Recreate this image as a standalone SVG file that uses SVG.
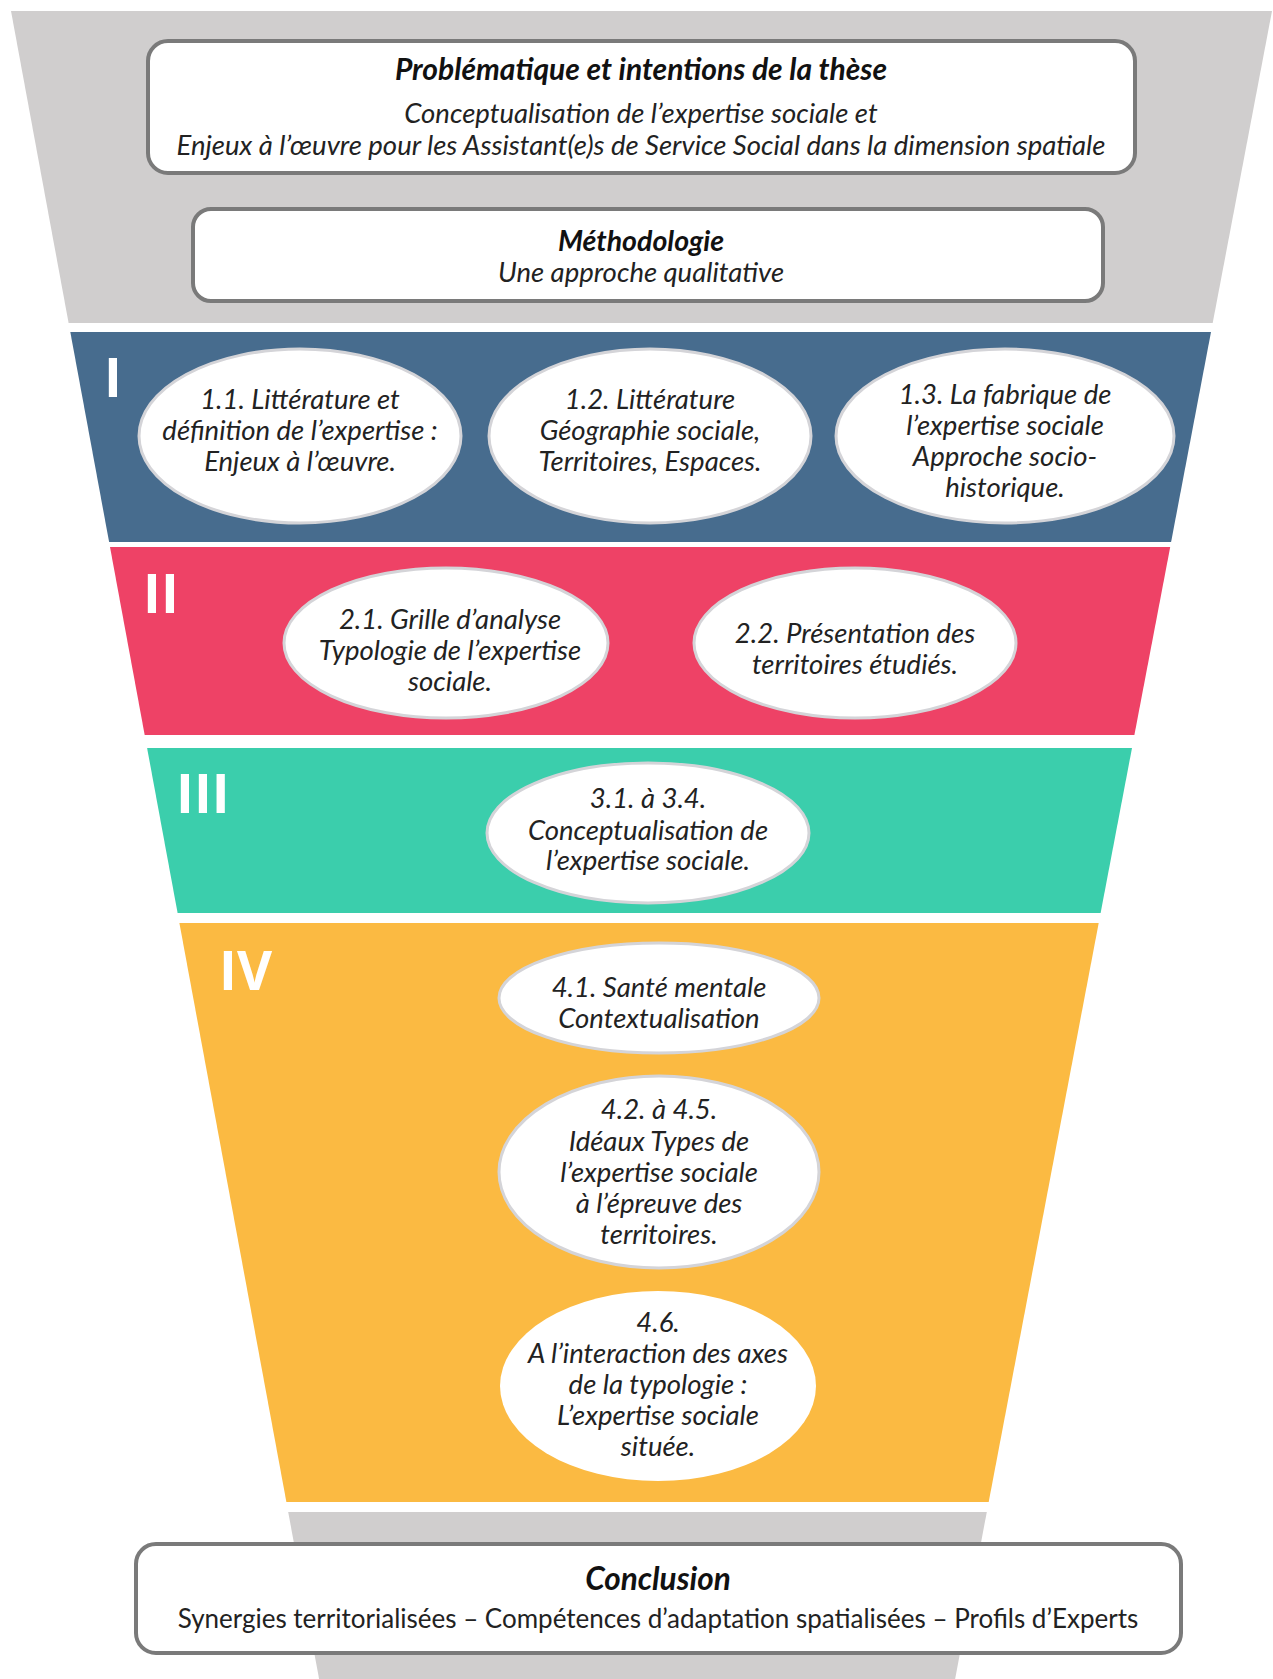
<svg xmlns="http://www.w3.org/2000/svg" width="1273" height="1679" viewBox="0 0 1273 1679">
<style>
.band-gray{fill:#D0CECE}
.band-blue{fill:#476C8E}
.band-pink{fill:#EE4266}
.band-teal{fill:#3BCEAC}
.band-yellow{fill:#FBBA42}
.box{fill:#FFFFFF;stroke:#7A7A7A;stroke-width:4}
.ell{fill:#FFFFFF;stroke:#D4D4D8;stroke-width:3}
.ell-plain{fill:#FFFFFF}
.t{font-family:Lato,"Liberation Sans",sans-serif;font-size:27.5px;font-style:italic;fill:#222222;text-anchor:middle}
.tb{font-family:Lato,"Liberation Sans",sans-serif;font-size:30px;font-style:italic;font-weight:700;fill:#111111;text-anchor:middle}
.tr{font-family:Lato,"Liberation Sans",sans-serif;font-size:26px;fill:#222222;text-anchor:middle}
.num{font-family:"Open Sans","Liberation Sans",sans-serif;font-size:54px;font-weight:700;fill:#FFFFFF}
</style>
<rect width="1273" height="1679" fill="#FFFFFF"/>
<g id="funnel">
  <polygon class="band-gray" points="11,11 1272,11 1212.7,323 68.6,323"/>
  <polygon class="band-blue" points="70.3,332 1211,332 1171.1,542 109.1,542"/>
  <polygon class="band-pink" points="110,547 1170.2,547 1134.4,735 144.7,735"/>
  <polygon class="band-teal" points="147.1,748 1132,748 1100.6,913 177.6,913"/>
  <polygon class="band-yellow" points="179.4,923 1098.7,923 988.7,1502 286.4,1502"/>
  <polygon class="band-gray" points="288.2,1512 986.8,1512 955.1,1679 319.1,1679"/>
</g>
<g id="section-numbers">
  <text class="num" x="104" y="397">I</text>
  <text class="num" x="143" y="613">II</text>
  <text class="num" x="176" y="813">III</text>
  <text class="num" x="219" y="990">IV</text>
</g>
<g id="problematique">
  <rect class="box" x="148" y="41" width="987" height="132" rx="20"/>
  <text class="tb" x="641" y="80">Problématique et intentions de la thèse</text>
  <text class="t" x="641" y="123">Conceptualisation de l’expertise sociale et</text>
  <text class="t" x="641" y="155">Enjeux à l’œuvre pour les Assistant(e)s de Service Social dans la dimension spatiale</text>
</g>
<g id="methodologie">
  <rect class="box" x="193" y="209" width="910" height="92" rx="18"/>
  <text class="tb" x="641" y="251" style="font-size:28.5px">Méthodologie</text>
  <text class="t" x="641" y="282">Une approche qualitative</text>
</g>
<g id="n1-1">
  <ellipse class="ell" cx="300" cy="436" rx="161" ry="87"/>
  <text class="t" x="300" y="409">1.1. Littérature et</text>
  <text class="t" x="300" y="440">définition de l’expertise :</text>
  <text class="t" x="300" y="471">Enjeux à l’œuvre.</text>
</g>
<g id="n1-2">
  <ellipse class="ell" cx="650" cy="436" rx="161" ry="87"/>
  <text class="t" x="650" y="409">1.2. Littérature</text>
  <text class="t" x="650" y="440">Géographie sociale,</text>
  <text class="t" x="650" y="471">Territoires, Espaces.</text>
</g>
<g id="n1-3">
  <ellipse class="ell" cx="1005" cy="436" rx="169" ry="87"/>
  <text class="t" x="1005" y="404">1.3. La fabrique de</text>
  <text class="t" x="1005" y="435">l’expertise sociale</text>
  <text class="t" x="1005" y="466">Approche socio-</text>
  <text class="t" x="1005" y="497">historique.</text>
</g>
<g id="n2-1">
  <ellipse class="ell" cx="446" cy="643" rx="162" ry="75"/>
  <text class="t" x="450" y="629">2.1. Grille d’analyse</text>
  <text class="t" x="450" y="660">Typologie de l’expertise</text>
  <text class="t" x="450" y="691">sociale.</text>
</g>
<g id="n2-2">
  <ellipse class="ell" cx="855" cy="643" rx="161" ry="75"/>
  <text class="t" x="855" y="643">2.2. Présentation des</text>
  <text class="t" x="855" y="674">territoires étudiés.</text>
</g>
<g id="n3">
  <ellipse class="ell" cx="648" cy="833" rx="161" ry="70"/>
  <text class="t" x="648" y="808">3.1. à 3.4.</text>
  <text class="t" x="648" y="840">Conceptualisation de</text>
  <text class="t" x="648" y="870">l’expertise sociale.</text>
</g>
<g id="n4-1">
  <ellipse class="ell" cx="659" cy="998" rx="160" ry="55"/>
  <text class="t" x="659" y="997">4.1. Santé mentale</text>
  <text class="t" x="659" y="1028">Contextualisation</text>
</g>
<g id="n4-2">
  <ellipse class="ell" cx="659" cy="1172" rx="160" ry="96"/>
  <text class="t" x="659" y="1119">4.2. à 4.5.</text>
  <text class="t" x="659" y="1151">Idéaux Types de</text>
  <text class="t" x="659" y="1182">l’expertise sociale</text>
  <text class="t" x="659" y="1213">à l’épreuve des</text>
  <text class="t" x="659" y="1244">territoires.</text>
</g>
<g id="n4-6">
  <ellipse class="ell-plain" cx="658" cy="1386" rx="158" ry="95"/>
  <text class="t" x="658" y="1332">4.6.</text>
  <text class="t" x="658" y="1363">A l’interaction des axes</text>
  <text class="t" x="658" y="1394">de la typologie :</text>
  <text class="t" x="658" y="1425">L’expertise sociale</text>
  <text class="t" x="658" y="1456">située.</text>
</g>
<g id="conclusion">
  <rect class="box" x="136" y="1544" width="1045" height="109" rx="20"/>
  <text class="tb" x="658" y="1590" style="font-size:31.5px">Conclusion</text>
  <text class="tr" x="658" y="1628">Synergies territorialisées – Compétences d’adaptation spatialisées – Profils d’Experts</text>
</g>
</svg>
